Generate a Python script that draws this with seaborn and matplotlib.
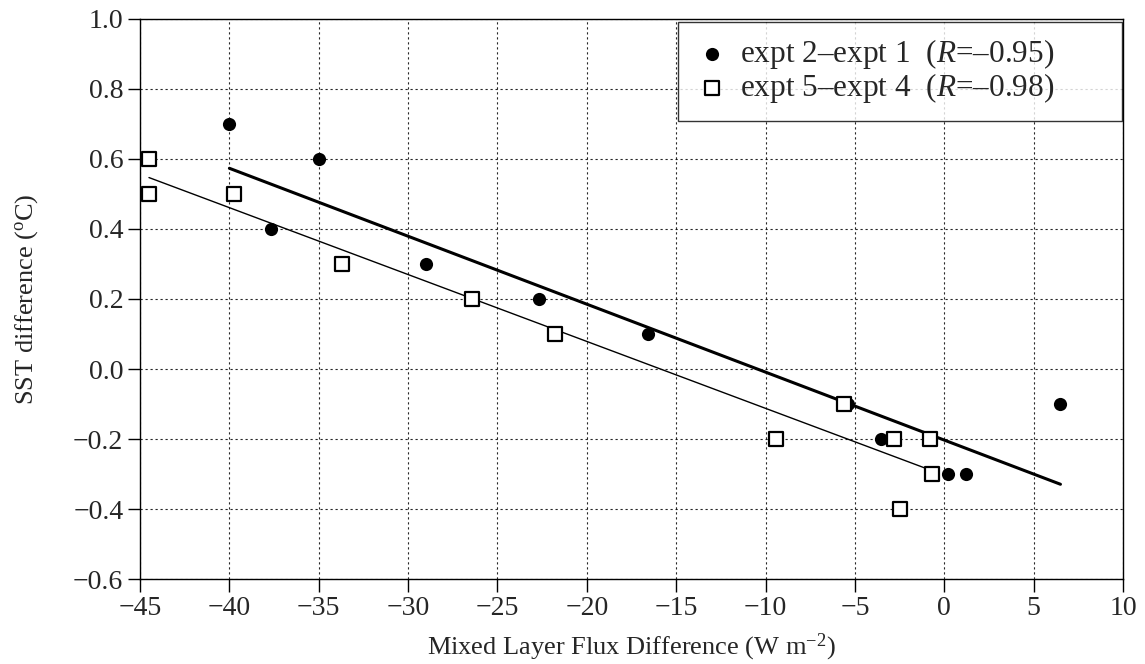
import matplotlib
matplotlib.use("Agg")
import matplotlib.pyplot as plt
import seaborn as sns
import pandas as pd

# Flux differences (W m-2) and SST differences (degC) for the two experiment pairs
flux_21 = [-40.0, -35.0, -37.7, -29.0, -22.7, -16.6, -5.4, -3.55, 0.2, 1.2, 6.5]
sst_21 = [0.7, 0.6, 0.4, 0.3, 0.2, 0.1, -0.1, -0.2, -0.3, -0.3, -0.1]

flux_54 = [-44.5, -44.5, -39.75, -33.7, -26.4, -21.8, -9.4, -5.6, -2.8, -2.5, -0.8, -0.7]
sst_54 = [0.6, 0.5, 0.5, 0.3, 0.2, 0.1, -0.2, -0.1, -0.2, -0.4, -0.2, -0.3]

label_21 = "expt 2\u2013expt 1  ($\\mathit{R}$=\u20130.95)"
label_54 = "expt 5\u2013expt 4  ($\\mathit{R}$=\u20130.98)"

x_ticks = [-45, -40, -35, -30, -25, -20, -15, -10, -5, 0, 5, 10]
y_ticks = [-0.6, -0.4, -0.2, 0.0, 0.2, 0.4, 0.6, 0.8, 1.0]

sns.set_theme(style="white")
plt.rcParams["font.family"] = ["Liberation Serif", "DejaVu Serif"]
plt.rcParams["mathtext.fontset"] = "custom"
plt.rcParams["mathtext.rm"] = "Liberation Serif"
plt.rcParams["mathtext.it"] = "Liberation Serif:italic"

df21 = pd.DataFrame({"flux": flux_21, "sst": sst_21})
df54 = pd.DataFrame({"flux": flux_54, "sst": sst_54})

fig = plt.figure(figsize=(11.45, 6.64), dpi=100)
ax = fig.add_axes([0.1223, 0.128, 0.8585, 0.8434])

# Fitted regression lines (no confidence band), truncated to each data range
sns.regplot(data=df21, x="flux", y="sst", ax=ax, ci=None, truncate=True,
            scatter=False, line_kws=dict(color="black", lw=2.2, zorder=3))
sns.regplot(data=df54, x="flux", y="sst", ax=ax, ci=None, truncate=True,
            scatter=False, line_kws=dict(color="black", lw=1.0, zorder=3))

sns.scatterplot(data=df21, x="flux", y="sst", ax=ax, marker="o", s=90,
                color="black", edgecolor="black", linewidth=0, zorder=4,
                label=label_21)
sns.scatterplot(data=df54, x="flux", y="sst", ax=ax, marker="s", s=90,
                facecolor="white", edgecolor="black", linewidth=1.6, zorder=4,
                label=label_54)

ax.set_xlim(-45, 10)
ax.set_ylim(-0.6, 1.0)
ax.set_xticks(x_ticks)
ax.set_yticks(y_ticks)
ax.set_xticklabels([f"{t:d}".replace("-", "\u2212") for t in x_ticks])
ax.set_yticklabels([f"{t:.1f}".replace("-", "\u2212") for t in y_ticks])

ax.grid(True, color="black", linestyle=(0, (2, 2.5)), linewidth=0.8, alpha=0.85)
ax.set_axisbelow(True)
for side in ["left", "right", "top", "bottom"]:
    ax.spines[side].set_visible(True)
    ax.spines[side].set_color("black")
    ax.spines[side].set_linewidth(1.0)

ax.tick_params(axis="both", which="major", direction="out", length=9,
               width=1.0, color="black", labelsize=20, pad=3,
               bottom=True, left=True)

ax.set_xlabel("Mixed Layer Flux Difference (W m$^{-2}$)", fontsize=19, labelpad=8)
ax.set_ylabel("SST difference ($^{\\mathrm{o}}$C)", fontsize=19, labelpad=24)

leg = ax.legend(loc="upper left", bbox_to_anchor=(0.547, 0.0, 0.4515, 0.995),
                mode="expand", borderaxespad=0.0, fontsize=22.5, frameon=True,
                fancybox=False, edgecolor="black", handletextpad=0.3,
                handlelength=1.2, borderpad=0.5, labelspacing=0.0,
                markerscale=1.0)
leg.get_frame().set_linewidth(1.0)

fig.savefig("out.png", dpi=100)
